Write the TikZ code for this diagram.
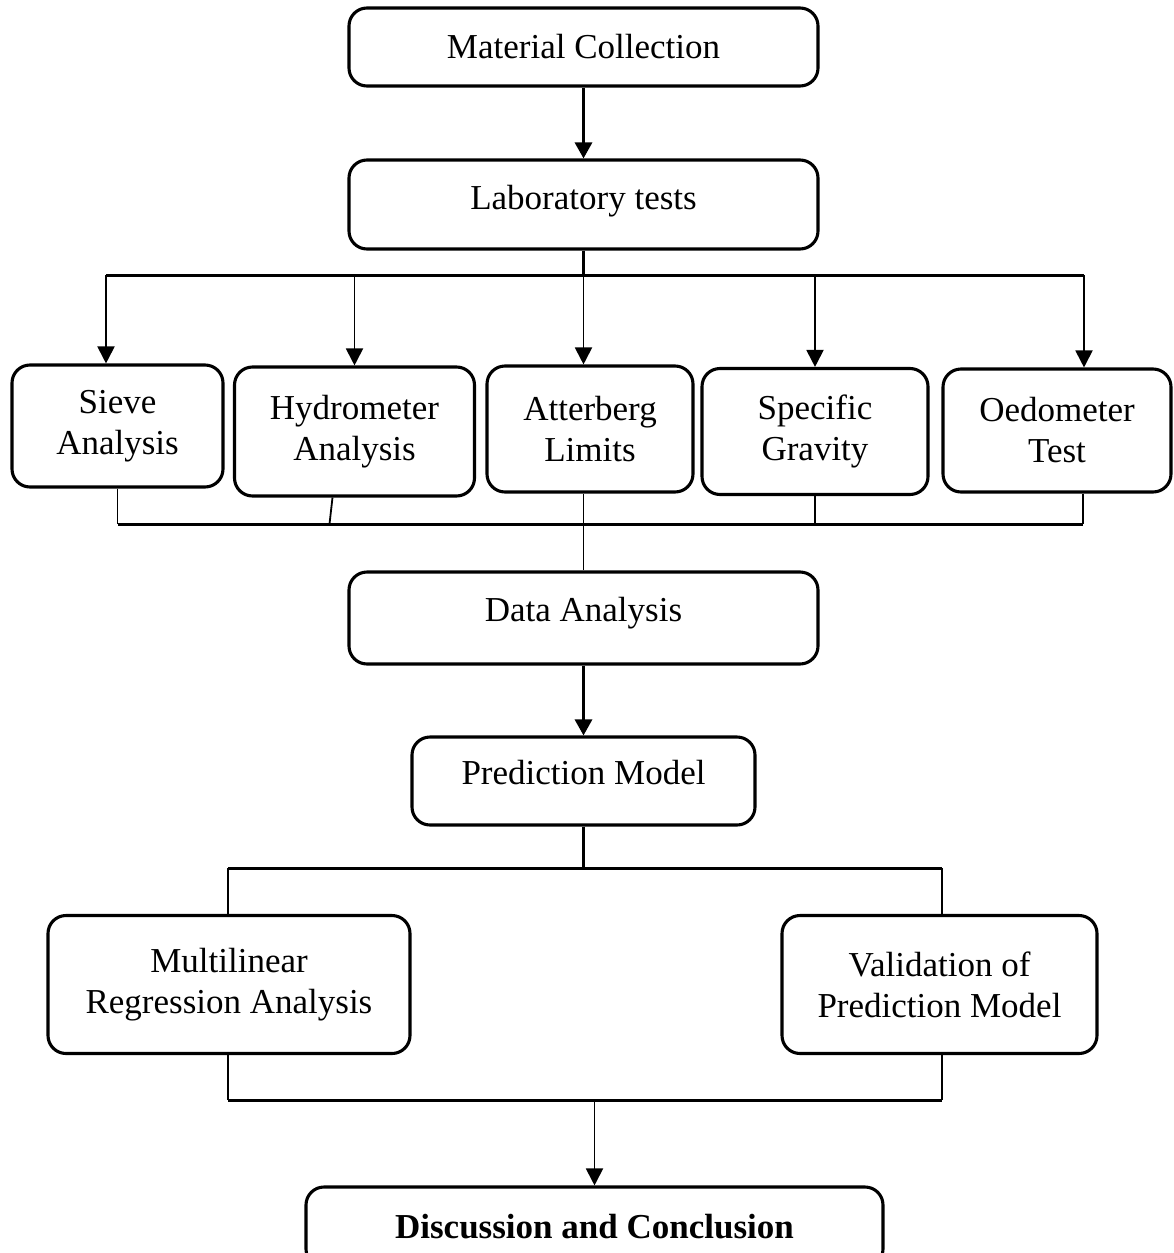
\documentclass[tikz,border=0pt]{standalone}
\usepackage{fontspec}
\setmainfont{Liberation Serif}
\usetikzlibrary{arrows.meta}
\newcommand\fsz{\fontsize{35}{41}\selectfont}
\tikzset{
  box/.style={draw, line width=3.1pt, rounded corners=18pt, align=center, inner sep=0pt, font=\fsz},
  tx/.style={text height=24pt, text depth=#1},
  main/.style={line width=3pt, -{Triangle[length=16pt,width=17pt]}},
  bar/.style={line width=3pt},
  thinline/.style={line width=1.8pt},
  branch/.style={line width=1.9pt, -{Triangle[length=17pt,width=17pt]}},
}
\begin{document}
\begin{tikzpicture}[x=1pt,y=-1pt]
\useasboundingbox (0,0) rectangle (1173,1253);
% boxes
\node[box, tx=1pt, minimum width=469pt, minimum height=78pt] (mc) at (583.5,47) {Material Collection};
\node[box, tx=14pt, minimum width=469pt, minimum height=89pt] (lt) at (583.5,204.5) {Laboratory tests};
\node[box, minimum width=211pt, minimum height=122pt] (sieve) at (117.5,426) {Sieve\\Analysis};
\node[box, minimum width=240pt, minimum height=129pt] (hydro) at (354.5,431.5) {Hydrometer\\Analysis};
\node[box, minimum width=206pt, minimum height=126pt] (atter) at (590,429) {Atterberg\\Limits};
\node[box, minimum width=226pt, minimum height=126pt] (spec) at (815,431.5) {Specific\\Gravity};
\node[box, minimum width=228pt, minimum height=123pt] (oed) at (1057,430.5) {Oedometer\\Test};
\node[box, tx=17pt, minimum width=469pt, minimum height=92pt] (da) at (583.5,618) {Data Analysis};
\node[box, tx=17pt, minimum width=343pt, minimum height=88pt] (pm) at (583.5,781) {Prediction Model};
\node[box, minimum width=362pt, minimum height=138pt] (mra) at (229,984.5) {Multilinear\\Regression Analysis};
\node[box, minimum width=315pt, minimum height=138pt] (vpm) at (939.5,984.5) {Validation of\\Prediction Model};
\node[box, tx=1pt, minimum width=577pt, minimum height=80pt, font=\fsz\bfseries] (dc) at (594.5,1227) {Discussion and Conclusion};
% coordinates of the bars
\coordinate (tb) at (583.5,275);
\coordinate (tbl) at (106,275);
\coordinate (tbr) at (1084,275);
\coordinate (bb) at (583.5,524);
\coordinate (bbl) at (117.5,524);
\coordinate (bbr) at (1083,524);
\coordinate (hd) at (329.5,524);
\coordinate (pb) at (583.5,868);
\coordinate (pbl) at (228,868);
\coordinate (pbr) at (942,868);
\coordinate (qbl) at (228,1100);
\coordinate (qbr) at (942,1100);
\coordinate (qm) at (594.5,1100);
% connectors
\draw[main] (mc) -- (lt);
\draw[bar] (lt) -- (tb);
\draw[bar] (tbl) -- (tbr);
\draw[branch] (tbl) -- (tbl |- sieve.north);
\draw[branch] (hydro.north |- tb) -- (hydro.north);
\draw[branch] (tb) -- (tb |- atter.north);
\draw[branch] (spec.north |- tb) -- (spec.north);
\draw[branch] (tbr) -- (tbr |- oed.north);
\draw[thinline] (sieve.south) -- (bbl);
\draw[thinline] ([xshift=-22pt]hydro.south) -- (hd);
\draw[thinline] (bb |- atter.south) -- (da.north);
\draw[thinline] (spec.south) -- (spec.south |- bb);
\draw[thinline] (bbr |- oed.south) -- (bbr);
\draw[bar] (bbl) -- (bbr);
\draw[main] (da) -- (pm);
\draw[bar] (pm) -- (pb);
\draw[bar] (pbl) -- (pbr);
\draw[thinline] (pbl) -- (pbl |- mra.north);
\draw[thinline] (pbr) -- (pbr |- vpm.north);
\draw[thinline] (mra.south -| qbl) -- (qbl);
\draw[thinline] (vpm.south -| qbr) -- (qbr);
\draw[bar] (qbl) -- (qbr);
\draw[branch] (qm) -- (qm |- dc.north);
\end{tikzpicture}
\end{document}
